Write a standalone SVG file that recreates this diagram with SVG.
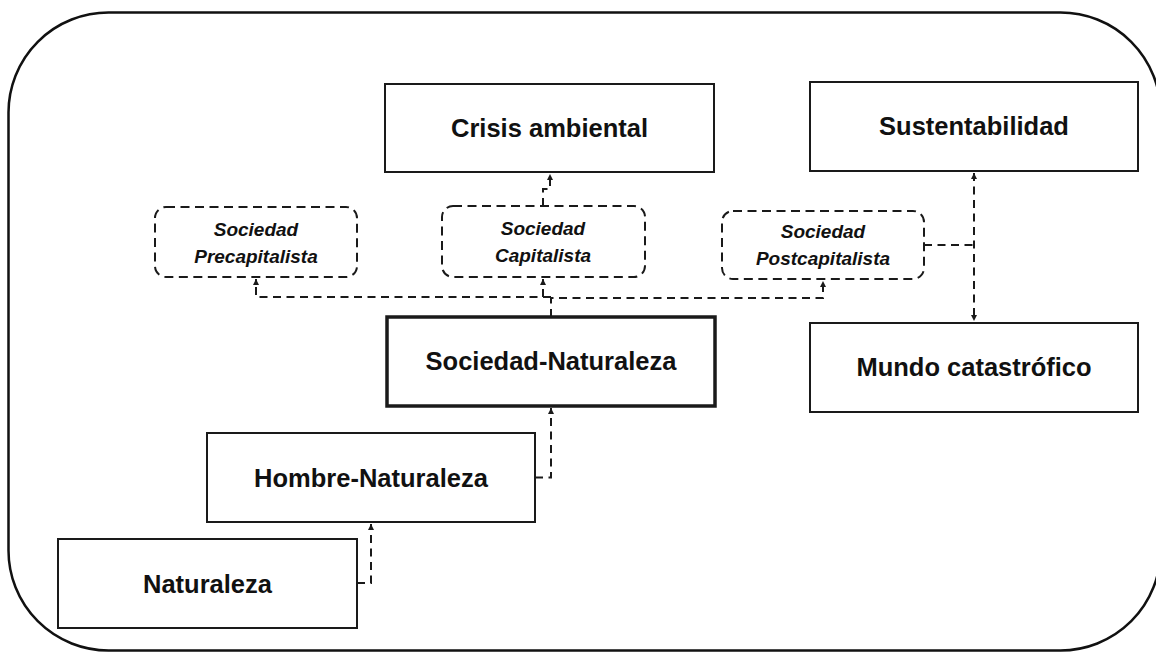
<svg xmlns="http://www.w3.org/2000/svg" width="1156" height="652" viewBox="0 0 1156 652">
  <style>
    .box { fill: #ffffff; stroke: #1a1a1a; stroke-width: 2; }
    .main { stroke-width: 3.5; }
    .dbox { fill: #ffffff; stroke: #1a1a1a; stroke-width: 2; stroke-dasharray: 9 5.5; }
    .lbl { font-family: "Liberation Sans", Arial, sans-serif; font-weight: bold; font-size: 25.5px; fill: #111111; text-anchor: middle; }
    .ital { font-family: "Liberation Sans", Arial, sans-serif; font-weight: bold; font-style: italic; font-size: 19px; fill: #111111; text-anchor: middle; }
    .conn { fill: none; stroke: #1a1a1a; stroke-width: 2; stroke-dasharray: 8 5.5; }
  </style>
  <defs>
    <marker id="arr" markerUnits="userSpaceOnUse" markerWidth="8" markerHeight="8" refX="6" refY="3" orient="auto-start-reverse">
      <path d="M0,0 L6,3 L0,6 z" fill="#1a1a1a"/>
    </marker>
  </defs>
  <rect width="1156" height="652" fill="#ffffff"/>
  <rect id="frame" x="8.5" y="12.5" width="1152" height="638" rx="100" ry="100" fill="none" stroke="#111111" stroke-width="2.5"/>

  <g id="connectors">
    <path class="conn" d="M357,583 H371 V524" marker-end="url(#arr)"/>
    <path class="conn" d="M535,477.5 H551 V408" marker-end="url(#arr)"/>
    <path class="conn" d="M551,317 V298 H823 V281" marker-end="url(#arr)"/>
    <path class="conn" d="M551,297 H256 V279" marker-end="url(#arr)"/>
    <path class="conn" d="M543,297 V279" marker-end="url(#arr)"/>
    <path class="conn" d="M543,206 V189 H550 V174" marker-end="url(#arr)"/>
    <path class="conn" d="M924,245 H974"/>
    <path class="conn" d="M974,173 V321" marker-start="url(#arr)" marker-end="url(#arr)"/>
  </g>

  <g id="crisis">
    <rect class="box" x="385" y="84" width="329" height="88"/>
    <text class="lbl" x="549.5" y="137">Crisis ambiental</text>
  </g>
  <g id="sustentabilidad">
    <rect class="box" x="810" y="82" width="328" height="89"/>
    <text class="lbl" x="974" y="135">Sustentabilidad</text>
  </g>
  <g id="precapitalista">
    <rect class="dbox" x="155" y="207" width="202" height="70" rx="11"/>
    <text class="ital" x="256" y="236">Sociedad</text>
    <text class="ital" x="256" y="263">Precapitalista</text>
  </g>
  <g id="capitalista">
    <rect class="dbox" x="442" y="206" width="203" height="71" rx="11"/>
    <text class="ital" x="543" y="235">Sociedad</text>
    <text class="ital" x="543" y="262">Capitalista</text>
  </g>
  <g id="postcapitalista">
    <rect class="dbox" x="722" y="211" width="202" height="68" rx="11"/>
    <text class="ital" x="823" y="238">Sociedad</text>
    <text class="ital" x="823" y="265">Postcapitalista</text>
  </g>
  <g id="sociedad-naturaleza">
    <rect class="box main" x="387" y="317" width="328" height="89"/>
    <text class="lbl" x="551" y="370">Sociedad-Naturaleza</text>
  </g>
  <g id="mundo">
    <rect class="box" x="810" y="323" width="328" height="89"/>
    <text class="lbl" x="974" y="376">Mundo catastrófico</text>
  </g>
  <g id="hombre-naturaleza">
    <rect class="box" x="207" y="433" width="328" height="89"/>
    <text class="lbl" x="371" y="487">Hombre-Naturaleza</text>
  </g>
  <g id="naturaleza">
    <rect class="box" x="58" y="539" width="299" height="89"/>
    <text class="lbl" x="207.5" y="593">Naturaleza</text>
  </g>
</svg>
